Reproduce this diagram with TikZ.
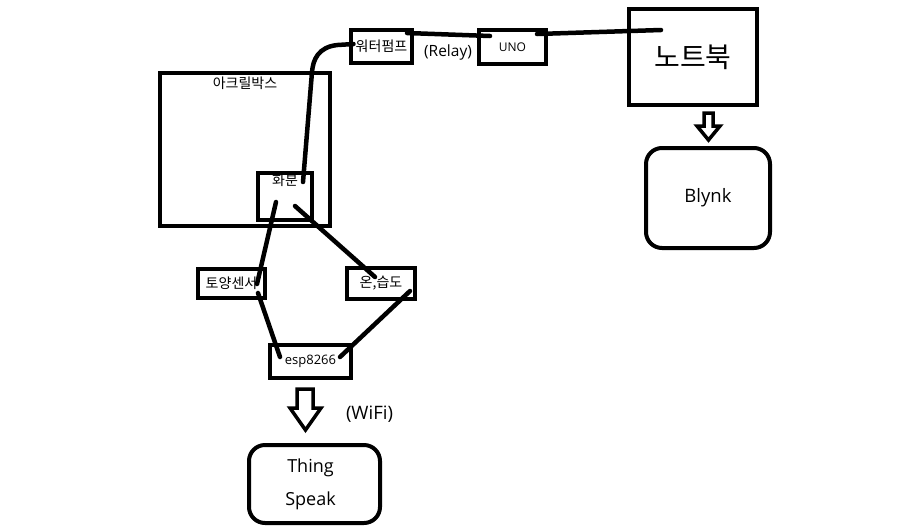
\documentclass[tikz,border=0pt]{standalone}
\usepackage{fontspec}
\setmainfont{Open Sans}
\newfontfamily\kr{Noto Sans CJK KR}
\begin{document}
\begin{tikzpicture}[x=1pt,y=-1pt,
  box/.style={draw,line width=4pt,inner sep=0pt,minimum width=#1},
  rbox/.style={draw,line width=4pt,inner sep=0pt,rounded corners=16pt},
  wire/.style={line width=4.5pt,line cap=round},
  harrow/.style={line width=3.5pt,line join=miter},
  krs/.style={font=\kr\fontsize{14}{16}\selectfont},
  every node/.style={text=black}]
\useasboundingbox[fill=white] (0,0) rectangle (921,531);
% boxes
\node[box=170,minimum height=153,label={[anchor=north,inner sep=0pt,yshift=-6pt,krs]north:아크릴박스}] (acr) at (245,149.5) {};
\node[box=54,minimum height=47,label={[anchor=north,inner sep=0pt,yshift=-3pt,krs]north:화분}] (hb) at (285,196.5) {};
\node[box=61,minimum height=33,krs] (pump) at (381.5,46.5) {\raisebox{2pt}{워터펌프}};
\node[box=67,minimum height=34,font=\fontsize{12}{14}\selectfont] (uno) at (512.5,47) {UNO};
\node[box=128,minimum height=96,font=\kr\fontsize{28}{30}\selectfont] (nb) at (693,57) {노트북};
\node[rbox,minimum width=124,minimum height=100,font=\fontsize{18.5}{21}\selectfont] (blynk) at (708,198) {\raisebox{-3pt}{Blynk}};
\node[box=67,minimum height=29,krs] (soil) at (231.5,283.5) {토양센서};
\node[box=68,minimum height=31,krs] (th) at (381,283.5) {온,습도};
\node[box=81,minimum height=33,font=\fontsize{13}{15}\selectfont] (esp) at (310.5,361.5) {\raisebox{-2pt}{esp8266}};
\node[rbox,minimum width=131,minimum height=78,align=center,font=\fontsize{18}{33}\selectfont] (ts) at (314.5,484) {\raisebox{-2.5pt}{\hspace*{-8pt}Thing}\\\raisebox{-2.5pt}{\hspace*{-8pt}Speak}};
% labels
\node[font=\fontsize{15.5}{18}\selectfont] (relay) at (448,52) {(Relay)};
\node[font=\fontsize{18.5}{21}\selectfont] (wifi) at (369.5,414) {(WiFi)};
% wires
\draw[wire] ([shift={(-28,-2.5)}]pump.center) -- ++(-16,1) .. controls (318,47) and (313,60) .. (312,72) -- ([shift={(18,-14.5)}]hb.center);
\draw[wire] ([shift={(25.5,-13.5)}]pump.center) -- ([shift={(-22.5,-11)}]uno.center);
\draw[wire] ([shift={(24.5,-13)}]uno.center) -- ([shift={(-32,-27)}]nb.center);
\draw[wire] ([shift={(-9,5.5)}]hb.center) -- ([shift={(25.5,0.5)}]soil.center);
\draw[wire] ([shift={(10,9.5)}]hb.center) -- ([shift={(-6,-6.5)}]th.center);
\draw[wire] ([shift={(26.5,9.5)}]soil.center) -- ([shift={(-30.5,-4.5)}]esp.center);
\draw[wire] ([shift={(29,7.5)}]th.center) -- ([shift={(29.5,-4.5)}]esp.center);
% hollow arrows
\draw[harrow] (704,113) -- (713,113) -- (713,126) -- (720,126) -- (708.5,140) -- (697,126) -- (704,126) -- cycle;
\draw[harrow] (297,389) -- (313,389) -- (313,408) -- (321,408) -- (305.5,430) -- (290,408) -- (297,408) -- cycle;
\end{tikzpicture}
\end{document}
